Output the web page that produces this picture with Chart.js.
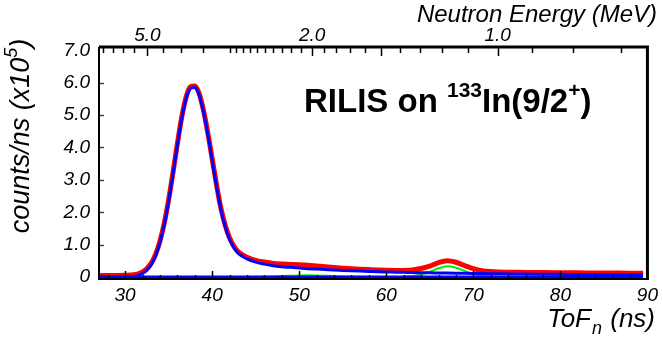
<!DOCTYPE html>
<html>
<head>
<meta charset="utf-8">
<script src="https://cdn.jsdelivr.net/npm/chart.js@4.4.0/dist/chart.umd.min.js"></script>
<style>
  html, body { margin: 0; padding: 0; background: #fff; }
  #wrap { width: 663px; height: 343px; }
</style>
</head>
<body>
<div id="wrap"><canvas id="myChart" width="663" height="343"></canvas></div>
<script>
// time of flight (ns) and fitted curves, counts/ns in units of 1e5
const tofNs = [27, 28, 29, 30, 31, 31.5, 32, 32.5, 33, 33.5, 34, 34.5, 35, 35.5, 36, 36.5, 37, 37.5, 38, 38.5,
  39, 39.5, 40, 40.5, 41, 41.5, 42, 42.5, 43, 44, 45, 46, 47, 48, 49, 50, 51, 52, 53, 54, 55, 56, 57, 58, 59,
  60, 61, 62, 63, 64, 65, 66, 67, 68, 69, 70, 71, 72, 73, 74, 75, 76, 78, 80, 82, 84, 86, 88, 89.5];

const mainPeak = [0, 0, 0, 0.005, 0.02, 0.05, 0.11, 0.21, 0.38, 0.65, 1.06, 1.62, 2.34, 3.18, 4.06, 4.88, 5.50, 5.82, 5.85, 5.62,
  5.10, 4.40, 3.60, 2.80, 2.08, 1.55, 1.16, 0.90, 0.73, 0.56, 0.46, 0.40, 0.35, 0.32, 0.30, 0.28, 0.26, 0.245, 0.23, 0.215, 0.205, 0.195, 0.185, 0.175, 0.165,
  0.158, 0.152, 0.146, 0.14, 0.135, 0.13, 0.126, 0.122, 0.118, 0.114, 0.11, 0.106, 0.103, 0.10, 0.097, 0.094, 0.092, 0.088, 0.084, 0.08, 0.077, 0.074, 0.071, 0.07];

const secondPeak = [0, 0, 0, 0, 0, 0, 0, 0, 0, 0, 0, 0, 0, 0, 0, 0, 0, 0, 0, 0,
  0, 0, 0, 0, 0, 0, 0, 0, 0, 0, 0.005, 0.012, 0.02, 0.03, 0.04, 0.05, 0.055, 0.05, 0.04, 0.03, 0.02, 0.013, 0.008, 0.005, 0.003,
  0.002, 0.002, 0.01, 0.03, 0.08, 0.16, 0.27, 0.33, 0.29, 0.19, 0.10, 0.04, 0.015, 0.006, 0.003, 0.001, 0, 0, 0, 0, 0, 0, 0, 0];

const totalFit = [0.05, 0.05, 0.05, 0.055, 0.07, 0.10, 0.16, 0.26, 0.43, 0.70, 1.11, 1.67, 2.39, 3.23, 4.11, 4.93, 5.55, 5.87, 5.90, 5.67,
  5.15, 4.45, 3.65, 2.85, 2.13, 1.60, 1.21, 0.95, 0.78, 0.61, 0.515, 0.462, 0.42, 0.40, 0.39, 0.38, 0.365, 0.345, 0.32, 0.295, 0.275, 0.258, 0.243, 0.23, 0.218,
  0.21, 0.204, 0.206, 0.22, 0.265, 0.34, 0.446, 0.502, 0.458, 0.354, 0.26, 0.196, 0.168, 0.156, 0.15, 0.145, 0.142, 0.138, 0.134, 0.13, 0.127, 0.124, 0.121, 0.12];

const baseline = tofNs.map(() => 0);

const xTickValues = [30, 40, 50, 60, 70, 80, 90];
const yTickValues = [0, 1, 2, 3, 4, 5, 6, 7];
const energyTicksMeV = [7, 6.5, 6, 5.5, 5, 4.5, 4, 3.5, 3, 2.9, 2.8, 2.7, 2.6, 2.5, 2.4, 2.3, 2.2, 2.1, 2.0,
  1.9, 1.8, 1.7, 1.6, 1.5, 1.4, 1.3, 1.2, 1.1, 1.0, 0.9, 0.8, 0.7];
const energyLabeled = [5, 2, 1];

// E = K / t^2 (about 1 m flight path)
const K = 5300;
const tofForEnergy = e => Math.sqrt(K / e);

const FONT = '"Liberation Sans", Arial, Helvetica, sans-serif';
const tickFont = { family: FONT, size: 19, style: 'italic' };

const pts = arr => arr.map((v, i) => ({ x: tofNs[i], y: v }));

const frameAndTicks = {
  id: 'frameAndTicks',
  afterDraw(chart) {
    const c = chart.ctx;
    const a = chart.chartArea;
    const x = chart.scales.x, x2 = chart.scales.x2, y = chart.scales.y;
    c.save();
    c.strokeStyle = '#000';
    c.lineWidth = 1.5;
    // bottom ticks
    for (let t = 28; t <= 90; t += 2) {
      const px = Math.round(x.getPixelForValue(t)) + 0.5;
      const len = t % 10 === 0 ? 8 : 4;
      c.beginPath(); c.moveTo(px, a.bottom); c.lineTo(px, a.bottom - len); c.stroke();
    }
    // top ticks (energy)
    energyTicksMeV.forEach(e => {
      const px = Math.round(x2.getPixelForValue(tofForEnergy(e))) + 0.5;
      const len = [5, 2, 1.5, 1].includes(e) ? 9 : 6;
      c.beginPath(); c.moveTo(px, a.top); c.lineTo(px, a.top + len); c.stroke();
    });
    // left ticks
    c.strokeStyle = '#444';
    for (let v = 1; v <= 6; v++) {
      const py = Math.round(y.getPixelForValue(v)) + 0.5;
      c.beginPath(); c.moveTo(a.left, py); c.lineTo(a.left + 5, py); c.stroke();
    }
    // frame
    c.strokeStyle = '#000';
    c.lineWidth = 2;
    c.beginPath(); c.moveTo(a.left, a.top); c.lineTo(a.left, a.bottom); c.lineTo(a.right, a.bottom); c.stroke();
    c.lineWidth = 3;
    c.beginPath(); c.moveTo(a.left, a.top); c.lineTo(a.right, a.top); c.lineTo(a.right, a.bottom + 1); c.stroke();

    // axis titles
    c.fillStyle = '#000';
    c.textBaseline = 'alphabetic';
    c.font = 'italic 24px ' + FONT;
    c.textAlign = 'right';
    c.fillText('Neutron Energy (MeV)', 657, 22);

    // ToF_n (ns)
    c.textAlign = 'left';
    const big = 'italic 26px ' + FONT, small = 'italic 18px ' + FONT;
    c.font = big; const w1 = c.measureText('ToF').width; const w3 = c.measureText(' (ns)').width;
    c.font = small; const w2 = c.measureText('n').width + 2;
    let sx = 655 - (w1 + w2 + w3);
    c.font = big; c.fillText('ToF', sx, 327);
    c.font = small; c.fillText('n', sx + w1 + 1, 334);
    c.font = big; c.fillText(' (ns)', sx + w1 + w2, 327);

    // y title, rotated
    c.save();
    c.translate(29, 136);
    c.rotate(-Math.PI / 2);
    const ybig = 'italic 27px ' + FONT, ysmall = 'italic 18px ' + FONT;
    c.font = ybig; const y1 = c.measureText('counts/ns (x10').width; const y3 = c.measureText(')').width;
    c.font = ysmall; const y2 = c.measureText('5').width;
    const y0 = -(y1 + y2 + y3) / 2;
    c.font = ybig; c.fillText('counts/ns (x10', y0, 0);
    c.font = ysmall; c.fillText('5', y0 + y1, -12);
    c.font = ybig; c.fillText(')', y0 + y1 + y2, 0);
    c.restore();

    // annotation
    const tb = 'bold 33px ' + FONT, ts = 'bold 21px ' + FONT;
    let ax = 304; const ay = 112;
    const parts = [['RILIS on ', tb, 0], ['133', ts, -15], ['In(9/2', tb, 0], ['+', ts, -15], [')', tb, 0]];
    parts.forEach(([txt, f, dy]) => {
      c.font = f; c.fillText(txt, ax, ay + dy); ax += c.measureText(txt).width;
    });
    c.restore();
  }
};

const ctx = document.getElementById('myChart');

new Chart(ctx, {
  type: 'line',
  data: {
    datasets: [
      { label: 'total', data: pts(totalFit), borderColor: '#ff0000', borderWidth: 5, order: 4 },
      { label: 'second', data: pts(secondPeak), borderColor: '#00ee00', borderWidth: 2, order: 3 },
      { label: 'main', data: pts(mainPeak), borderColor: '#0000ff', borderWidth: 3, order: 2 },
      { label: 'baseline', data: pts(baseline), borderColor: '#0000ff', borderWidth: 3, order: 1 }
    ]
  },
  options: {
    responsive: false,
    animation: false,
    layout: { padding: { left: 0, right: 12, top: 0, bottom: 0 } },
    elements: { point: { radius: 0 }, line: { cubicInterpolationMode: 'monotone' } },
    plugins: { legend: { display: false }, tooltip: { enabled: false } },
    scales: {
      x: {
        type: 'linear', position: 'bottom', min: 27, max: 90,
        afterBuildTicks: s => { s.ticks = xTickValues.map(v => ({ value: v })); },
        afterFit: s => { s.height = 64; },
        ticks: { font: tickFont, color: '#000', padding: 5, maxRotation: 0, autoSkip: false },
        grid: { display: false, drawTicks: false },
        border: { display: false }
      },
      x2: {
        type: 'linear', position: 'top', min: 27, max: 90,
        afterBuildTicks: s => { s.ticks = energyTicksMeV.map(e => ({ value: tofForEnergy(e) })); },
        afterFit: s => { s.height = 47; },
        ticks: {
          font: tickFont, color: '#000', padding: 0, maxRotation: 0, autoSkip: false,
          callback: (v, i) => energyLabeled.includes(energyTicksMeV[i]) ? energyTicksMeV[i].toFixed(1) : ''
        },
        grid: { display: false, drawTicks: false },
        border: { display: false }
      },
      y: {
        min: -0.06, max: 7.1,
        afterBuildTicks: s => { s.ticks = yTickValues.map(v => ({ value: v })); },
        afterFit: s => { s.width = 99; },
        ticks: {
          font: tickFont, color: '#000', padding: 9,
          callback: v => v === 0 ? '0' : v.toFixed(1)
        },
        grid: { display: false, drawTicks: false },
        border: { display: false }
      }
    }
  },
  plugins: [frameAndTicks]
});
</script>
</body>
</html>
